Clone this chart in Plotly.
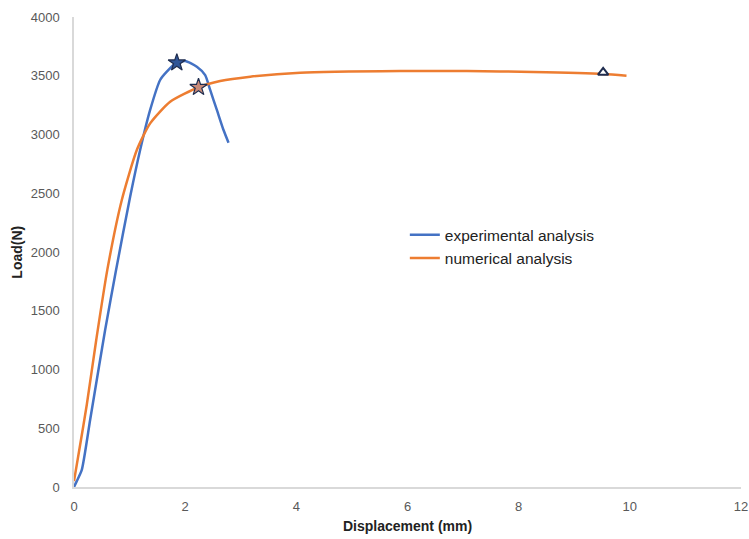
import plotly.graph_objects as go

# Experimental load-displacement curve
exp_disp = [0.0, 0.05, 0.14, 0.29, 0.45, 0.56, 0.75, 1.01, 1.19, 1.37, 1.55, 1.67, 1.85,
            2.0, 2.21, 2.36, 2.45, 2.57, 2.69, 2.78]
exp_load = [0, 50, 145, 570, 1025, 1336, 1830, 2470, 2868, 3209, 3464, 3535, 3611,
            3626, 3577, 3506, 3379, 3209, 3038, 2930]

# Numerical load-displacement curve
num_disp = [0.0, 0.1, 0.23, 0.40, 0.6, 0.86, 1.13, 1.37, 1.73, 2.24, 2.63, 3.17, 4.07,
            5.87, 7.07, 8.26, 9.52, 9.94]
num_load = [50, 330, 700, 1251, 1850, 2443, 2868, 3095, 3279, 3402, 3455, 3492, 3526,
            3540, 3540, 3532, 3515, 3500]

# Highlighted points
exp_peak = (1.85, 3611)
num_star = (2.24, 3402)
num_end = (9.52, 3528)

BLUE = "#4472C4"
ORANGE = "#ED7D31"
NAVY = "#1F2D4F"
FONT = "Liberation Sans, Arial, sans-serif"

fig = go.Figure()
fig.add_trace(go.Scatter(x=exp_disp, y=exp_load, mode="lines", name="experimental analysis",
                         line=dict(color=BLUE, width=2.5, shape="spline", smoothing=0.6)))
fig.add_trace(go.Scatter(x=num_disp, y=num_load, mode="lines", name="numerical analysis",
                         line=dict(color=ORANGE, width=2.5, shape="spline", smoothing=0.6)))
fig.add_trace(go.Scatter(x=[exp_peak[0]], y=[exp_peak[1]], mode="markers", showlegend=False,
                         marker=dict(symbol="star", size=13, color="#2F5597",
                                     line=dict(color=NAVY, width=1.2))))
fig.add_trace(go.Scatter(x=[num_star[0]], y=[num_star[1]], mode="markers", showlegend=False,
                         marker=dict(symbol="star", size=13, color="#C98A78",
                                     line=dict(color=NAVY, width=1.2))))
fig.add_trace(go.Scatter(x=[num_end[0]], y=[num_end[1]], mode="markers", showlegend=False,
                         marker=dict(symbol="triangle-up", size=9, color="white",
                                     line=dict(color=NAVY, width=2))))

tickfont = dict(family=FONT, size=13, color="#595959")
titlefont = dict(family=FONT, size=14, color="#222222")

fig.update_layout(
    width=749, height=539,
    margin=dict(l=74, r=8, t=17, b=52),
    paper_bgcolor="white", plot_bgcolor="white",
    showlegend=True,
    legend=dict(x=0.496, y=0.572, xanchor="left", yanchor="top",
                font=dict(family=FONT, size=15.5, color="#222222"),
                bgcolor="rgba(0,0,0,0)", tracegroupgap=0, itemwidth=30),
    xaxis=dict(range=[0, 12], dtick=2, tick0=0, showgrid=False, zeroline=False,
               showline=True, linecolor="#D9D9D9", linewidth=1.5, ticks="",
               tickfont=tickfont, ticklabelstandoff=7, automargin=False),
    yaxis=dict(range=[0, 4000], dtick=500, tick0=0, showgrid=False, zeroline=False,
               showline=True, linecolor="#D9D9D9", linewidth=1.5, ticks="",
               tickfont=tickfont, ticklabelstandoff=10, automargin=False),
    annotations=[
        dict(text="<b>Displacement (mm)</b>", xref="paper", yref="paper",
             x=0.5, y=-0.082, xanchor="center", yanchor="middle",
             showarrow=False, font=titlefont),
        dict(text="<b>Load(N)</b>", xref="paper", yref="paper",
             x=-0.086, y=0.5, xanchor="center", yanchor="middle", textangle=-90,
             showarrow=False, font=titlefont),
    ],
)

fig.write_html("out.html")
